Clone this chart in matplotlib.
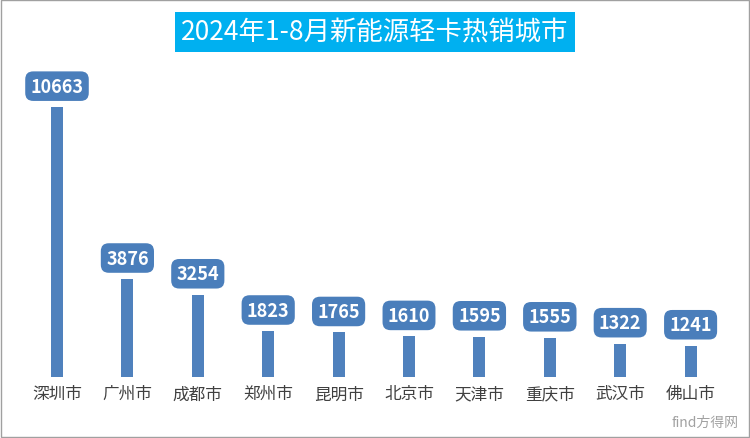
import matplotlib
matplotlib.use("Agg")
import matplotlib.pyplot as plt
from matplotlib.patches import Rectangle
from matplotlib import font_manager

names = {f.name for f in font_manager.fontManager.ttflist}
cjk = [n for n in ["Noto Sans CJK SC", "Noto Sans CJK JP", "Noto Sans CJK TC", "Noto Sans CJK KR"] if n in names]
plt.rcParams["font.family"] = cjk + ["DejaVu Sans"]

categories = ["深圳市", "广州市", "成都市", "郑州市", "昆明市", "北京市", "天津市", "重庆市", "武汉市", "佛山市"]
values = [10663, 3876, 3254, 1823, 1765, 1610, 1595, 1555, 1322, 1241]
title = "2024年1-8月新能源轻卡热销城市"

fig = plt.figure(figsize=(7.5, 4.39), dpi=100)
ax = fig.add_axes([21.8/750, 61/439, 704/750, 338/439])
ax.bar(range(len(values)), values, width=0.17, color="#4F81BD")
ax.set_xlim(-0.5, len(values) - 0.5)
ax.set_ylim(0, 13348)
ax.set_yticks([])
ax.set_xticks(range(len(values)))
ax.set_xticklabels(categories, fontsize=12, color="#404040")
ax.tick_params(axis="x", length=0, pad=6)
for s in ax.spines.values():
    s.set_visible(False)

for i, v in enumerate(values):
    ax.annotate(str(v), (i, v), xytext=(0, 15), textcoords="offset points",
                ha="center", va="center", fontsize=13, fontweight="bold", color="white",
                bbox=dict(boxstyle="round,pad=0.35,rounding_size=0.5", fc="#4A7EBB", ec="white", lw=1.5))

fig.text(0.5, 0.925, title, ha="center", va="center", fontsize=19, color="white",
         bbox=dict(boxstyle="square,pad=0.25", fc="#00B0F0", ec="none"))
fig.text(0.985, 0.02, "find方得网", ha="right", va="bottom", fontsize=10, color="#7a7a7a", alpha=0.7)
fig.add_artist(Rectangle((0.001, 0.002), 0.997, 0.995, transform=fig.transFigure,
                         fill=False, ec="#A0A0A0", lw=1))
fig.savefig("out.png", dpi=100)
